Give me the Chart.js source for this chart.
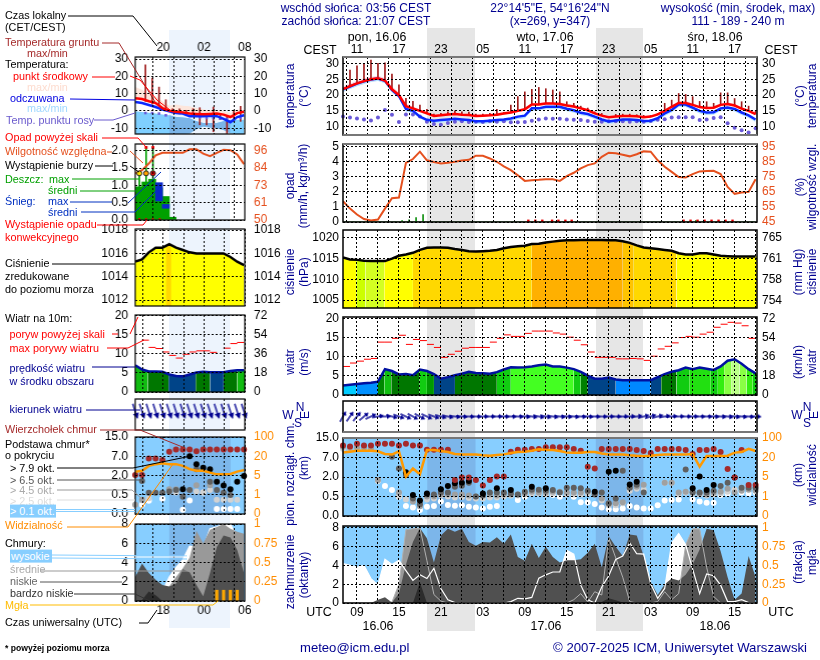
<!DOCTYPE html>
<html lang="pl">
<head>
<meta charset="utf-8">
<title>Meteogram ICM</title>
<script src="https://cdn.jsdelivr.net/npm/chart.js@4"></script>
<style>
    html, body { margin: 0; padding: 0; background: #fff; overflow: hidden; }
    #page { position: relative; width: 820px; height: 660px; overflow: hidden; font-family: "Liberation Sans", Arial, sans-serif; }
    #page canvas { position: absolute; z-index: 1; }
    #page svg { position: absolute; left: 0; top: 0; z-index: 2; }
    .night { position: absolute; z-index: 0; }
    .txt { position: absolute; z-index: 3; white-space: nowrap; line-height: 1; }
</style>
</head>
<body>
<div id="page"></div>
<script>
const _ = null;

// main panels: one value per hour, first one is 07 UTC on 16.06
const tempMid = [21.9,22.8,23.7,24.4,25,25.3,24.6,21.8,20,16.5,15.8,15,14.2,13.4,13.6,13.9,14,13.8,13.7,13.4,13.5,13.6,13.8,14.2,14.5,15,15.5,17,17,17.3,17.3,17.2,16.7,16.4,15.8,15.2,14.2,13.5,13,13.2,13.4,13.4,13.3,13,13.2,13.9,15,16.3,17.5,17.5,16.9,16.2,15.9,16,16.9,17.2,16.7,15.7,15,14];
const tempMax = [22.8,23.6,24.6,25.3,25.8,26.1,25.4,22.8,20.8,17.3,16.4,15.5,14.7,13.9,14.1,14.3,14.4,14.2,14.1,13.8,13.9,14,14.3,14.7,15,15.5,16,17.5,17.6,17.8,17.8,17.7,17.2,16.9,16.3,15.6,14.6,13.9,13.4,13.6,13.8,13.8,13.7,13.4,13.6,14.3,15.5,16.8,18,18.1,17.4,16.6,16.3,16.5,17.4,17.7,17.2,16.2,15.4,14.4];
const tempMin = [21,21.9,22.8,23.5,24.1,24.5,23.8,20.9,19.2,15.8,15.1,14.5,13.8,13,13.2,13.5,13.6,13.4,13.3,13,13.1,13.2,13.4,13.8,14.1,14.6,15,16.5,16.6,16.9,16.9,16.8,16.3,16,15.4,14.8,13.8,13.1,12.7,12.9,13.1,13.1,13,12.7,12.9,13.5,14.6,15.9,17,17.1,16.5,15.8,15.5,15.6,16.4,16.7,16.3,15.3,14.6,13.6];
const feelMid = [21.8,22.7,23.6,24.3,24.9,25.2,24.5,21.6,19.7,15.6,15,13.2,12.2,11.9,12.1,12.3,12.5,12.3,12.1,11.7,11.7,11.9,12.1,12.3,12.6,13.2,13.5,15.8,15.8,16.3,16.3,16.3,15.7,15.2,14.4,14,13.2,12.3,11.7,12,12.3,12.3,12.1,11.8,11.9,12.7,14.2,15.3,17,17,16,15,14.5,14.6,15.8,16.1,15.6,14.5,13.6,12.3];
const feelMin = [21,21.9,22.8,23.5,24.1,24.4,23.7,20.8,19,14.8,14.2,12.8,11.4,11.1,11.3,11.5,11.7,11.5,11.3,10.9,10.9,11.1,11.3,11.5,11.8,12.4,12.7,15,15.1,15.5,15.5,15.5,14.9,14.4,13.6,13.2,12.4,11.5,10.9,11.2,11.5,11.5,11.3,11,11.1,11.9,13.4,14.5,16.2,16.2,15.2,14.2,13.7,13.8,15,15.3,14.8,13.7,12.8,11.5];
const soilMax = [22,27.9,29.2,30,31,30,30.2,26.6,23.2,19,18,16.8,15.5,14,14.2,14.7,15,14.7,14.6,14,14,14.2,15.5,14.5,16.8,19.5,21,21.8,22.4,22,21.6,21,17.9,17.4,16.5,15.9,14.7,14.2,13.2,13.9,14,14,13.8,13.6,13.5,14.2,17.4,18.4,20.5,20.2,19.5,18,17.9,17.4,20.7,20.7,18.9,17.9,16.5,15];
const dewPoint = [13.2,12.9,12.6,12.3,12,12.9,15.3,13.8,11.5,13.9,13.9,13.2,11.6,10.9,10.6,11.2,11.6,11.7,11.5,11.6,11.5,11.7,11.6,11.7,11.4,11.4,11.5,11.9,12.3,12.6,12.5,12.5,12.3,12.2,12.1,11.8,11.6,11.6,11.7,11.7,11.7,11.6,11.7,11.6,11.8,12.2,12.4,12.9,13,13,13,12.1,12.3,12.8,13,11.1,9.7,8.9,8.2,9.5];

const humidity = [58.8,53.9,50,47,46,46.6,53.9,60.8,61.2,84.3,86.8,91.7,86,84.8,83.9,84.3,85,85.9,86.3,89,89,87.2,85,82,79.4,76,72.3,72.8,73,73.4,73.4,72.3,75.4,77.7,80.6,82.8,83.9,88.3,91,90.6,89.7,88.6,90,91.9,91.7,86,81.7,78.3,74.8,74.6,76.8,78.6,78.8,79,76.8,68.3,63.7,64.6,65,73.4];
const rainMean = [0,0,0,0,0,0,0,0,0,0,0,0,0,0,0,0,0,0,0,0,0,0,0,0,0,0,0,0,0,0,0,0,0,0,0,0,0,0,0,0,0,0,0,0,0,0,0,0,0,0,0,0,0,0,0,0,0,0,0,0];
const rainMax = [0,0,0,0,0,0,0,0,0.1,0.15,0.3,0.5,0,0,0,0,0,0,0,0,0,0,0,0,0,0,0,0,0,0,0,0,0,0,0,0,0,0,0,0,0,0,0,0,0,0,0,0,0,0,0.1,0,0,0,0,0,0,0,0,0];
const convectiveHours = [26.5,27.5,28.5,29.9,30.8,31.8,32.7,48.7,49.7,50.7,51.7,52.7,53.7,54.7,55.7];

const pressure = [1015.3,1014.8,1014.7,1014.5,1014.4,1014.4,1014.4,1015,1015.7,1016,1016.4,1017.1,1017.6,1017.7,1017.7,1017.6,1017.3,1017.1,1016.8,1016.7,1016.8,1016.9,1017.1,1017.5,1017.8,1018,1018.1,1018.5,1018.6,1018.9,1019.1,1019.3,1019.4,1019.4,1019.5,1019.5,1019.5,1019.5,1019.4,1019.4,1019.2,1018.8,1018.2,1017.7,1017.5,1017.3,1017.1,1016.9,1016.3,1016,1016,1016.3,1016.3,1016,1015.7,1015.6,1015.5,1015.5,1015.5,1015.5];
const windSpeed = [2.5,2.7,2.9,3.1,3.2,3.5,6.8,6.3,5.4,5.5,5.2,6.7,6.3,5.5,4.3,4.7,5.2,5.6,6.1,5.8,5.7,5.6,6,6.7,7.3,7.2,7.3,7.5,7.8,8,7.5,7.5,7.2,6.8,6.1,5.1,4.3,4.3,4.6,4.1,3.9,3.9,3.9,3.9,3.9,4.7,5.5,6.1,6.5,7.2,6.8,7.2,6.9,6.6,7.5,9,9.4,8.2,6.8,5.7];
const windGust = [7.5,8.4,8.9,9.4,9.6,13.9,13.9,14.9,15.7,13.3,14.6,14.3,13.3,12.5,9.9,10.7,11.5,12.3,12.5,12.5,12.5,13.9,14.9,15.8,15.4,15.4,16.2,16.8,16.8,16.8,16.3,16,15.2,14.4,13.2,11.3,9.9,9.9,9.9,9.5,9.5,9.6,9.5,9.1,10.2,12.1,12.8,13.7,15.1,15.4,15.2,16,16.5,17.8,18.6,19.1,18.9,18.2,14.9];
const windAngle = [-60,-55,-50,-40,-25,-10,0,15,20,25,28,28,25,20,15,12,8,5,3,2,0,0,0,2,3,5,8,10,12,12,10,8,8,8,5,5,3,2,0,0,-2,-5,-10,-15,-18,-15,-10,-5,-2,0,0,2,3,5,8,10,10,8,5,2];

// cloud base: position on the axis, one unit per tick gap (0 / 0.5 / 2 / 7 / 15 km)
const baseTop = [3.61,3.56,3.71,3.61,3.61,3.71,3.71,3.71,3.62,3.71,3.62,3.62,3.4,3.4,3.4,3.4,1.85,1.97,1.97,1.85,1.56,1.85,2.02,2.02,3.3,3.4,3.4,3.44,3.44,3.52,3.52,3.52,3.52,3.44,3.35,2.53,2.44,3.44,3.44,3.44,3.44,3.44,3.38,3.33,3.23,3.44,3.44,3.44,3.44,3.38,3.18,3.38,3.38,3.44,3.28,2.41,1.97,3.38,1.59,1.59];
const baseOver79 = [_,_,_,_,_,_,_,_,_,2.24,1.08,0.79,1.16,_,1.37,1.54,1.68,1.71,1.79,_,1.16,_,1.42,_,1.33,_,_,1.5,_,1.42,_,_,_,_,_,_,1.25,_,2.27,2.32,_,1.62,1.76,_,_,_,_,_,_,_,1.42,2.02,1.33,1.59,_,_,1.97,_,_,_];
const baseOver65 = [_,_,_,_,_,_,_,3.04,2.44,2.1,0.9,0.6,1.1,1.1,1.2,1.2,1.5,1.55,1.7,1,1.05,1.2,1.2,1.2,1.15,1.1,1.25,1.35,1.35,1.3,1.33,1.2,1.45,1.45,1.42,1.3,1.1,1.2,0.65,0.9,2.32,1.45,1.6,1.2,_,_,_,_,_,2.39,1.2,1.2,1.2,1.3,1.54,1.7,_,1.45,1.45,1.45];
const baseOver45 = [3.55,3.5,3.5,3.5,3.45,1.85,_,3.08,1.2,_,0.75,0.5,1,1,1.1,1.1,1.1,1.1,1.05,1,1.05,1.1,1.05,1.1,1.1,1.1,1.15,1.25,1.2,1.2,1.25,1.25,1.2,1.2,1.2,1.25,1.15,0.9,0.6,0.65,0.7,1.45,1.5,1.6,_,_,1.7,1.7,1.2,1.25,1.25,1.15,1.1,1.2,1.25,1.4,1.2,1.3,1.35,1.3];
const baseOver25 = [3.45,3.45,3.45,3.45,3.4,1.81,_,_,1,0.85,0.75,0.6,0.85,0.9,1.05,1,0.95,0.98,0.92,0.9,0.9,0.95,0.95,1,1.05,1.05,1.1,1.15,1.15,1.1,1.15,1.2,1.1,1.1,1.1,1.15,1.1,0.8,0.55,0.55,0.65,1.3,1.4,1.35,_,_,1.7,1.7,1.1,1.2,1.15,1.1,1.05,1.1,1.15,1.25,1.35,1.45,1.45,1.4];
const baseOver01 = [_,_,_,_,_,1.81,1.54,1.33,0.99,0.51,0.43,0.31,0.48,0.51,0.74,0.56,0.53,0.55,0.48,0.43,0.39,0.48,0.51,_,_,0.82,0.99,_,_,_,1.08,0.99,_,0.99,0.7,0.7,0.62,0.43,0.34,0.34,0.39,0.51,0.43,0.38,0.39,0.55,0.79,0.82,0.85,_,0.85,0.74,0.68,0.68,1.08,1.16,1.28,1.2,1.16,1.2];
const visibility = [3.25,3.3,3.35,3.35,3.35,3.32,3.18,3.15,3.32,2.02,2.44,2.14,3.38,3.38,3.33,3.28,3.18,3.15,3.16,3.15,3.11,3.09,3.13,3.16,3.23,3.28,3.3,3.35,3.42,3.38,3.38,3.33,3.26,3.25,3.25,3.28,3.28,3.21,3.16,3.16,3.15,3.11,3.09,3.08,3.09,3.13,3.15,3.15,3.15,3.15,3.18,2.53,3.08,3.08,3.08,3.09,3.25,3.28,3.44,3.33];

// cloud cover, oktas
const cloudHigh = [4.2,4,3.8,4,2.6,1.9,4.65,4.1,4.55,3.45,2.4,3,2.6,3.7,1.55,0.35,0.05,0,0,0,0,0,0,0,0.15,0.5,0.45,0.6,2.65,3,3.3,3.3,5.6,5.2,1.9,0.35,0,1.7,2.9,4.65,5,6.4,5.25,5.2,2.05,0.5,1.55,6.4,7.4,6.2,3.6,1,3.1,2.9,1.9,0.15,0.15,0.35,0.05,0];
const cloudMid = [0,0,0,0,0,0,0,0.1,2,7.8,7.9,8,4.5,0.9,0.2,0,0,0,0,0,0,0,0,0,0,0,0,0,0,0,0,0,0,0.35,1,0.1,1.2,0.85,6.9,4.8,2.75,0.15,0,0,0,0.15,1.2,0.35,1,6.2,7.9,7.9,3.8,0.7,0,0,0,0,0,0];
const cloudLow = [0,0,0,0,0,0.35,0.6,0.05,1,4.1,6.5,8,6.9,4.3,7.2,7.9,7.6,7.9,6.5,6.1,6.5,6.45,7,6.3,7.3,4.9,4.5,6.3,4.8,6,4.9,4.3,4.55,4.55,4.65,5.35,6.3,3.8,7.1,6,5,7.3,7.2,5,2.25,0.85,2,2.6,2.4,3,4.1,5.7,7.9,7.75,5.5,2.75,0.35,1,5,2.75];
const cloudVeryLow = [0,0,0,0,0,0,0,0,0,0,0,2.2,0,0,0,0,0,0,0,0,0,0,0,0,0,0,0,0,0,0,0,0,0,0,0,0,0,0.1,0.5,0.3,0.05,0,0,0,0,0,0,0,0,0,0,0,0,0,0,0,0,0,0,0];

// main axes
const mainHourTicks = [2,5,8,11,14,17,20,23,26,29,32,35,38,41,44,47,50,53,56,59];
const utcLabels = ['09','','15','','21','','03','','09','','15','','21','','03','','09','','15',''];
const cestLabels = ['11','','17','','23','','05','','11','','17','','23','','05','','11','','17',''];
const sunBands = [[12.05,18.95],[36.15,42.95]];

// small legend panels: one value per hour, 17 hours
const keyTemp = [7.3,6.9,5.6,4.6,1.7,0.2,-0.4,-0.8,-1.5,-1.7,-1.9,-1.7,-1.5,-2.1,-3.5,-1.2,-0.4];
const keyTempMax = [13.8,12.3,9.8,8.5,5.6,3,3.7,3,2.7,1.7,0.8,0.4,0.4,-0.2,-1.2,0.8,0.2];
const keyFeel = [5.2,4.6,3.5,2.3,0.8,-0.2,-1.2,-1.5,-3,-3,-3,-2.8,-3,-4.6,-6.5,-3.5,-2.5];
const keyFeelMax = [-0.2,-0.6,-1,-1.5,-2,-2.5,-3.5,-3.8,-4.2,-6,-7,-7,-7,-6,-5,-5,-5];
const keyFeelMin = [-13.3,-13.3,-13.3,-13.3,-13.3,-13.3,-13.3,-13.3,-13,-10.5,-9,-9.5,-10,-11,-13,-13.3,-13.3];
const keySoilHigh = [_,26.7,19,13.8,6.5,1.3,1.3,0.4,1.3,1.9,-3.6,2.3,-1.5,-2.5,0.4,2.7,_];
const keySoilLow = [_,5.5,4,3,0,-1,-1,-1.5,-2,-8,-8,-12,-5,-13,-6,-6,_];
const keyDew = [_,-1.2,-1.2,-1.5,-2.5,-0.6,-1.2,-2.1,-2.1,-3.7,-4,-4,-4.4,-4.6,-5.4,-4,_];
const keyHumidity = [81,83.2,87.6,93.1,94.7,94.7,94.7,94.7,97.1,97.1,94.2,92.5,94.7,96.7,96.5,93.6,87.2];
const keyRain = [0.96,1.1,1.18,0.38,0.34,0.08];
const keySnow = [_,_,_,1.08,0.45,_];
const keyRainFrom = [0,0,0,0.55,0.34,0];
const keyRainPeaks = [1.35,2.1,2.1];
const keyStorm = [1.35,1.35,1.35];
const keyAboveScale = [2.1,2.1];
const keyConvective = [0.03,0.03,0.03,0.03];
const keyPressure = [1015.3,1015.5,1016.1,1016.5,1016.5,1016.8,1016.5,1016.3,1016.1,1016,1016,1016,1016,1016,1015.7,1015.3,1015];
const keyWind = [7,5.9,5.4,5.4,5.3,4.6,4.2,4.1,4.6,5.1,5.3,5.2,5.2,5.2,5.5,5.7,5.7];
const keyGust = [_,13.6,11.7,11.4,10.5,9.6,8.9,9.9,10.5,10.8,10.8,10.4,_,11.5,12.7,13];
const keyVane = [72,72,72,72,72,72,72,72,72,72,72,72,72,72,72,72,72];
const keyVaneRow = [0.6,0.6,0.6,0.6,0.6,0.6,0.6,0.6,0.6,0.6,0.6,0.6,0.6,0.6,0.6,0.6,0.6];
const keyBaseTop = [2.03,2.03,2.88,2.88,2.8,3.24,3.35,3.35,3.35,3.26,3.35,3.35,3.35,3.35,3.35,3.35,3.35];
const keyOver79 = [_,_,_,_,_,_,_,1.29,3,2.58,2.4,2.32,1.68,1.48,1.29,1.68,1.97];
const keyOver65 = [_,1.72,1.1,1.1,1.1,1.17,1.25,0.9,1.25,2.32,_,1.68,1.25,1.1,0.99,_,_];
const keyOver45 = [0.48,0.74,_,_,_,1.29,1.29,_,_,1.5,_,1.5,_,_,_,_,_];
const keyOver25 = [_,0.72,0.82,_,_,1.17,1.12,_,_,1.17,1.12,1.25,0.74,0.74,0.74,0.74,_];
const keyOver01 = [_,0.48,0.69,_,0.79,_,_,0.22,0.7,_,1.12,_,0.26,0.26,0.26,0.26,_];
const keyVisibility = [2.2,2.25,2.5,2.59,2.63,2.58,2.59,2.5,2.33,2.25,2.25,2.15,2.06,2.06,2.08,2.2,2.28];
const keyHigh = [0,0,0,0,1,2.5,3.5,4.3,5.7,5.6,5.6,7.5,7.7,8,8,6.65,6];
const keyMid = [0,0,0,0,0.5,1.5,2.5,3.4,4.5,7.3,6,7.4,7.7,8,7.5,7.2,7];
const keyLow = [2.5,3.9,2.9,2.2,1.65,1.5,1.8,3.3,3,1.65,0.5,2.9,5.6,6.8,6.6,5.3,2.9];
const keyVeryLow = [0,0.1,1,0.6,0,0,0,0,0,0,0,0,0,0,0,0,0];
const keyFog = [0.14,0.14,0.14,0.14];

const keyStart = 13.88;
const keyHourTicks = [15,18,21,24,27,30];
const keyUtcLabels = ['','18','','00','','06'];
const keyLocalLabels = ['','20','','02','','08'];
const keyNight = [[18.9,27.9]];

// ticks
const tempTicks = [30,25,20,15,10];
const rainTicks = [5,4,3,2,1,0];
const humidityTicks = [95,85,75,65,55,45];
const pressureTicks = [1020,1015,1010,1005];
const mmHgTicks = [765.06,761.3,757.6,753.8];
const mmHgLabels = ['765','761','758','754'];
const windTicks = [20,15,10,5,0];
const kmhTicks = [72,54,36,18,0];
const levelTicks = [4,3,2,1,0];
const baseLabels = ['15.0','7.0','2.0','0.5','0.0'];
const visibilityLabels = ['100','20','5','1','0'];
const oktaTicks = [8,6,4,2,0];
const fractionTicks = [1,0.75,0.5,0.25,0];
const fractionLabels = ['1','0.75','0.5','0.25','0'];
const keyTempTicks = [30,20,10,0,-10];
const keyRainTicks = [2,1.5,1,0.5,0];
const keyRainLabels = ['2.0','1.5','1.0','0.5','0.0'];
const keyHumidityTicks = [96,84.5,73,61.5,50];
const keyHumidityLabels = ['96','84','73','61','50'];
const keyPressureTicks = [1018,1016,1014,1012];
const keyOktaTicks = [8,6,4,2,0];

const SIDE = 50;
const page = document.getElementById('page');
const tickFont = { family: '"Liberation Sans", Arial, sans-serif', size: 12 };
const NAVY = '#000090', ORANGE = '#ff8c00', RUST = '#e5501e';

function pts(values, x0) {
    return values.map((v, i) => ({ x: i + x0, y: v }));
}

function line(values, x0, color, width, extra) {
    return Object.assign({ type: 'line', data: pts(values, x0), borderColor: color, borderWidth: width, pointRadius: 0, tension: 0, fill: false }, extra);
}

function dots(values, x0, color, radius, extra) {
    return Object.assign({ type: 'line', data: pts(values, x0), showLine: false, pointRadius: radius, pointBackgroundColor: color, pointBorderWidth: 0, clip: false }, extra);
}

function bars(data, color, thickness, extra) {
    return Object.assign({ type: 'bar', data: data, backgroundColor: color, barThickness: thickness, grouped: false }, extra);
}

function valueAt(values, x) {
    const a = Math.min(Math.floor(x), values.length - 1);
    const b = Math.min(a + 1, values.length - 1);
    return values[a] + (values[b] - values[a]) * (x - a);
}

// one filled colour strip under a curve, between two hours
function strips(values, table) {
    return table.map(([from, to, color]) => {
        const data = [{ x: from, y: valueAt(values, from) }];
        for (let i = Math.ceil(from + 0.001); i < to; i++) data.push({ x: i, y: values[i] });
        data.push({ x: to, y: valueAt(values, to) });
        return { type: 'line', data: data, borderWidth: 0, pointRadius: 0, tension: 0, fill: 'start', backgroundColor: color };
    });
}

function yScale(position, range, ticks, labels, color, padding) {
    return {
        type: 'linear', position: position, min: range[0], max: range[1],
        afterBuildTicks: s => { s.ticks = ticks.map(v => ({ value: v })); },
        afterFit: s => { s.width = SIDE; },
        grid: { display: position === 'left', color: '#000', lineWidth: 1, drawTicks: false, z: 1 },
        border: { display: false, dash: [2, 2] },
        ticks: {
            display: ticks.length > 0, color: color || '#000', font: tickFont, padding: padding, autoSkip: false,
            callback: v => labels ? labels[ticks.indexOf(v)] : String(v)
        }
    };
}

function xScale(position, range, ticks, labels, height, padding) {
    return {
        type: 'linear', position: position, min: range[0], max: range[1], offset: false,
        afterBuildTicks: s => { s.ticks = ticks.map(v => ({ value: v })); },
        afterFit: s => { s.height = height; },
        grid: { display: position === 'bottom', color: '#000', lineWidth: 1, drawTicks: false, z: 1 },
        border: { display: false, dash: [2, 2] },
        ticks: {
            display: !!labels, color: '#000', font: tickFont, padding: padding, autoSkip: false, maxRotation: 0,
            callback: (v, i) => labels ? labels[i] : ''
        }
    };
}

// one framed panel with its own axes; plot area is given in page pixels
function panel(o) {
    const mt = o.topLabels ? 26 : 20;
    const mb = o.bottomLabels ? 26 : 20;
    const cv = document.createElement('canvas');
    const w = o.box[1] - o.box[0] + SIDE * 2;
    const h = o.box[3] - o.box[2] + mt + mb;
    cv.width = w; cv.height = h;
    cv.style.left = (o.box[0] - SIDE) + 'px';
    cv.style.top = (o.box[2] - mt) + 'px';
    cv.style.width = w + 'px';
    cv.style.height = h + 'px';
    page.appendChild(cv);

    const n = o.datasets.length;
    o.datasets.forEach((d, i) => {
        d.order = n - i;
        if (!d.yAxisID) d.yAxisID = 'y';
    });

    const frame = {
        id: 'frame',
        beforeDraw(chart) {
            if (!o.sky) return;
            const { ctx, chartArea: a, scales } = chart;
            ctx.save();
            ctx.fillStyle = '#87ceff';
            ctx.fillRect(a.left, a.top, a.width, a.height);
            ctx.fillStyle = '#7cb6ea';
            o.bands.forEach(([from, to]) => {
                const l = scales.x.getPixelForValue(from);
                ctx.fillRect(l, a.top, scales.x.getPixelForValue(to) - l, a.height);
            });
            ctx.restore();
        },
        afterDraw(chart) {
            const { ctx, chartArea: a } = chart;
            ctx.save();
            ctx.lineWidth = o.frameWidth || 1.5;
            ctx.strokeStyle = '#000';
            ctx.strokeRect(a.left, a.top, a.width, a.height);
            ctx.strokeStyle = '#777';
            ctx.lineWidth = 2;
            (o.greyEdges || []).forEach(edge => {
                const y = edge === 'top' ? a.top : a.bottom;
                ctx.beginPath();
                ctx.moveTo(a.left, y);
                ctx.lineTo(a.right, y);
                ctx.stroke();
            });
            ctx.restore();
        }
    };

    const scales = {
        x: xScale('bottom', o.range, o.hourTicks, o.bottomLabels, mb, 2.5),
        xt: xScale('top', o.range, o.hourTicks, o.topLabels, mt, o.topPad || 0),
        y: yScale('left', o.left.range, o.left.ticks, o.left.labels, o.left.color, o.leftPad || 4),
        yr: yScale('right', o.right.range, o.right.ticks, o.right.labels, o.right.color, o.rightPad || 5)
    };

    return new Chart(cv, {
        type: 'line',
        data: { datasets: o.datasets },
        options: {
            responsive: false, animation: false, devicePixelRatio: 1,
            layout: { padding: 0 },
            scales: scales,
            plugins: { legend: { display: false }, tooltip: { enabled: false } }
        },
        plugins: [frame]
    });
}

function arrowImage(length, headLength, headWidth, color) {
    const c = document.createElement('canvas');
    c.width = length; c.height = 8;
    const g = c.getContext('2d');
    g.strokeStyle = color; g.fillStyle = color; g.lineWidth = 1.4;
    g.beginPath(); g.moveTo(0, 4); g.lineTo(length - 2, 4); g.stroke();
    g.beginPath(); g.moveTo(length, 4); g.lineTo(length - headLength, 4 - headWidth / 2); g.lineTo(length - headLength, 4 + headWidth / 2); g.closePath(); g.fill();
    return c;
}

/* ---------- main column ---------- */
const mainX = [342.7, 757];
const mainRange = [0, 59.2];
function mainPanel(top, bottom, o) {
    return panel(Object.assign({ box: [mainX[0], mainX[1], top, bottom], range: mainRange, hourTicks: mainHourTicks, bands: sunBands }, o));
}

const mainTemp = mainPanel(57, 135, {
    topLabels: cestLabels, greyEdges: ['top', 'bottom'],
    left: { range: [7.4, 32], ticks: tempTicks }, right: { range: [7.4, 32], ticks: tempTicks },
    datasets: [
        line(tempMax, 0, 'rgba(0,0,0,0)', 0, { fill: '+1', backgroundColor: '#fbd5e0' }),
        line(tempMin, 0, 'rgba(0,0,0,0)', 0),
        line(feelMid, 0, 'rgba(0,0,0,0)', 0, { fill: '+1', backgroundColor: '#b8e4ff' }),
        line(feelMin, 0, 'rgba(0,0,0,0)', 0),
        bars(soilMax.map((v, i) => ({ x: i, y: [tempMid[i], v] })), '#a01c1c', 1),
        dots(dewPoint, 0, '#6a5ad8', 2),
        line(feelMid, 0, '#0a28ff', 2.5),
        line(tempMid, 0, '#ff0000', 2.5)
    ]
});

mainPanel(144, 222, {
    greyEdges: ['top'],
    left: { range: [0, 5.18], ticks: rainTicks }, right: { range: [45, 96.8], ticks: humidityTicks, color: RUST },
    datasets: [
        line(rainMean, 0, '#0a6a0a', 1),
        bars(pts(rainMax, 0.45), '#109010', 1),
        line(humidity, 0, RUST, 2, { yAxisID: 'yr' }),
        dots(convectiveHours.map(() => 0.08), 0, '#e00000', 1.7, { pointStyle: 'rect', data: convectiveHours.map(h => ({ x: h, y: 0.08 })) })
    ]
});

const pressureStrips = [[0,1.9,'#ffff00'],[1.9,3.2,'#ccff00'],[3.2,5.9,'#d4ff22'],[5.9,10,'#ffff00'],[10,27,'#ffd800'],[27,40,'#ffb000'],[40,41.5,'#ffc400'],[41.5,47.7,'#ffd800'],[47.7,59.2,'#ffff00']];
mainPanel(230, 308, {
    left: { range: [1003.1, 1021.9], ticks: pressureTicks },
    right: { range: [752.4, 766.5], ticks: mmHgTicks, labels: mmHgLabels },
    datasets: strips(pressure, pressureStrips).concat([line(pressure, 0, '#000', 2.5)])
});

const windStrips = [[0,1.9,'#00ccff'],[1.9,5,'#0090ff'],[5,5.9,'#008800'],[5.9,6.9,'#11c011'],[6.9,10.9,'#007700'],[10.9,12,'#11cc11'],[12,13,'#009900'],[13,16,'#004488'],[16,22,'#007700'],[22,24,'#11cc11'],[24,33,'#44ff22'],[33,34,'#11cc11'],[34,35,'#008000'],[35,39,'#004488'],[39,44,'#0088ff'],[44,45.5,'#004488'],[45.5,47.7,'#007700'],[47.7,49.5,'#11cc11'],[49.5,52.6,'#22e011'],[52.6,53.6,'#11cc11'],[53.6,54.5,'#33ee11'],[54.5,55.5,'#88ff44'],[55.5,56.7,'#bbff88'],[56.7,57.7,'#88ff44'],[57.7,58.6,'#33ee11'],[58.6,59.2,'#11cc11']];
mainPanel(317, 395, {
    left: { range: [0, 20.5], ticks: windTicks }, right: { range: [0, 73.8], ticks: kmhTicks },
    datasets: strips(windSpeed, windStrips).concat([
        line(windSpeed, 0, '#0010a0', 2.5),
        dots(windGust, 0.5, '#ff0000', 3.5, { pointStyle: 'line', pointBorderColor: '#ff0000', pointBorderWidth: 1 })
    ])
});

const mainArrow = arrowImage(12, 4, 5, '#000090');
mainPanel(401, 432, {
    greyEdges: ['bottom'],
    left: { range: [0, 1], ticks: [] }, right: { range: [0, 1], ticks: [] },
    datasets: [
        dots(windAngle.map(() => 0.5), 0, '#000090', 5, { pointStyle: mainArrow, pointRotation: windAngle })
    ]
});

mainPanel(438, 516, {
    sky: true, greyEdges: ['top'],
    left: { range: [0, 4], ticks: levelTicks, labels: baseLabels },
    right: { range: [0, 4], ticks: levelTicks, labels: visibilityLabels, color: ORANGE },
    datasets: [
        dots(baseOver01, 0, '#ffffff', 3),
        dots(baseOver25, 0, '#d2d2d2', 3),
        dots(baseOver45, 0, '#a0a0a0', 3),
        dots(baseOver65, 0, '#606060', 3),
        dots(baseOver79, 0, '#000000', 3),
        dots(baseTop, 0, '#a52a2a', 3),
        line(visibility, 0, '#ff9900', 2.5)
    ]
});

mainPanel(526, 603, {
    sky: true, bottomLabels: utcLabels,
    left: { range: [0, 8.2], ticks: oktaTicks },
    right: { range: [0, 1.025], ticks: fractionTicks, labels: fractionLabels, color: ORANGE },
    datasets: [
        line(cloudHigh, 0, '#ffffff', 0, { fill: 'start', backgroundColor: '#ffffff' }),
        line(cloudMid, 0, '#999999', 0, { fill: 'start', backgroundColor: '#999999' }),
        line(cloudLow, 0, '#505050', 0, { fill: 'start', backgroundColor: '#505050' }),
        line(cloudVeryLow, 0, '#2c2c2c', 0, { fill: 'start', backgroundColor: '#2c2c2c' }),
        line(cloudMid, 0, '#b0b0b0', 1),
        line(cloudHigh, 0, '#ffffff', 1.2)
    ]
});

/* ---------- small legend column ---------- */
const keyX = [135.3, 245];
const keyRange = [keyStart, 30];
function keyPanel(top, bottom, o) {
    return panel(Object.assign({ box: [keyX[0], keyX[1], top, bottom], range: keyRange, hourTicks: keyHourTicks, bands: keyNight, frameWidth: 1.2, leftPad: 7, rightPad: 9, topPad: 2 }, o));
}

const keyTempChart = keyPanel(57, 134, {
    topLabels: keyLocalLabels,
    left: { range: [-13.3, 31.2], ticks: keyTempTicks }, right: { range: [-13.3, 31.2], ticks: keyTempTicks },
    datasets: [
        line(keyTempMax, keyStart, 'rgba(0,0,0,0)', 0, { fill: '+1', backgroundColor: '#fde6dc' }),
        line(keyTemp, keyStart, 'rgba(0,0,0,0)', 0),
        line(keyFeelMax, keyStart, 'rgba(0,0,0,0)', 0, { fill: '+1', backgroundColor: '#7fcfff' }),
        line(keyFeelMin, keyStart, 'rgba(0,0,0,0)', 0),
        line(keyFeelMax.slice(5, 15), keyStart + 5, 'rgba(0,0,0,0)', 0, { fill: '+1', backgroundColor: '#7ab4e8' }),
        line(keyFeelMin.slice(5, 15), keyStart + 5, 'rgba(0,0,0,0)', 0),
        bars(keySoilHigh.map((v, i) => ({ x: i + keyStart + 0.5, y: v === null ? null : [keySoilLow[i], v] })).filter(p => p.y), '#a01c1c', 1),
        dots(keyDew, keyStart + 0.5, '#6a5ad8', 1.8, { pointStyle: 'rect' }),
        line(keyFeel, keyStart, '#0a28ff', 2.5),
        line(keyTemp, keyStart, '#ff0000', 2.5)
    ]
});

keyPanel(144, 220, {
    left: { range: [0, 2.2], ticks: keyRainTicks, labels: keyRainLabels },
    right: { range: [50, 100.6], ticks: keyHumidityTicks, labels: keyHumidityLabels, color: RUST },
    datasets: [
        bars(keyRain.map((v, i) => ({ x: i + keyStart + 0.5, y: [0, v + keyRainFrom[i]] })), '#00a000', 7),
        bars(keySnow.map((v, i) => ({ x: i + keyStart + 0.5, y: v === null ? null : [keyRainFrom[i], v] })).filter(p => p.y), '#0a28c8', 7),
        bars(keyRainPeaks.map((v, i) => ({ x: i + keyStart + 0.6, y: [0.9, v] })), '#00a000', 1),
        line(keyHumidity, keyStart, RUST, 2, { yAxisID: 'yr' }),
        dots(keyAboveScale, keyStart + 1.6, '#e00000', 2, { pointStyle: 'rect' }),
        dots(keyStorm, keyStart + 0.6, ['#ffe000', '#ffa000', '#e00000'], 2.5, { pointBorderWidth: 1, pointBorderColor: '#222' }),
        dots(keyConvective, keyStart + 0.6, '#e00000', 1.3, { pointStyle: 'rect' })
    ]
});

keyPanel(229, 306, {
    left: { range: [1011.5, 1018.1], ticks: keyPressureTicks }, right: { range: [1011.5, 1018.1], ticks: keyPressureTicks },
    datasets: [
        line(keyPressure, keyStart, 'rgba(0,0,0,0)', 0, { fill: 'start', backgroundColor: '#ffff00' }),
        line(keyPressure, keyStart, 'rgba(0,0,0,0)', 0, { fill: 'start', backgroundColor: '#ffd800', data: [4.5, 5, 5.3].map(k => ({ x: keyStart + k, y: valueAt(keyPressure, k) })) }),
        line(keyPressure, keyStart, '#000', 2.5)
    ]
});

keyPanel(315, 392, {
    left: { range: [0, 20.2], ticks: windTicks }, right: { range: [0, 72.7], ticks: kmhTicks },
    datasets: strips(keyWind, [[0,1.85,'#11bb11'],[1.85,4.9,'#007700'],[4.9,8.9,'#004488'],[8.9,11,'#007700'],[11,13,'#004488'],[13,15,'#007700'],[15,16.12,'#11bb11']])
        .map(d => Object.assign(d, { data: d.data.map(p => ({ x: p.x + keyStart, y: p.y })) }))
        .concat([
            line(keyWind, keyStart, '#0010a0', 2.5),
            dots(keyGust, keyStart + 0.5, '#ff0000', 3.5, { pointStyle: 'line', pointBorderColor: '#ff0000', pointBorderWidth: 1 })
        ])
});

const keyArrow = arrowImage(16, 6, 6, '#000090');
keyPanel(399, 430, {
    left: { range: [0, 1], ticks: [] }, right: { range: [0, 1], ticks: [] },
    datasets: [
        dots(keyVaneRow, keyStart, '#000090', 5, { pointStyle: keyArrow, pointRotation: keyVane })
    ]
});

keyPanel(437, 514, {
    sky: true,
    left: { range: [0, 4], ticks: levelTicks, labels: baseLabels },
    right: { range: [0, 4], ticks: levelTicks, labels: visibilityLabels, color: ORANGE },
    datasets: [
        dots(keyOver01, keyStart, '#ffffff', 3),
        dots(keyOver25, keyStart, '#d2d2d2', 3),
        dots(keyOver45, keyStart, '#a0a0a0', 3),
        dots(keyOver65, keyStart, '#606060', 3),
        dots(keyOver79, keyStart, '#000000', 3),
        dots(keyBaseTop, keyStart, '#a52a2a', 3),
        line(keyVisibility, keyStart, '#ff9900', 2.5)
    ]
});

keyPanel(524, 601, {
    sky: true, bottomLabels: keyUtcLabels,
    left: { range: [0, 8], ticks: keyOktaTicks },
    right: { range: [0, 1], ticks: fractionTicks, labels: fractionLabels, color: ORANGE },
    datasets: [
        line(keyHigh, keyStart, '#ffffff', 1.2, { fill: 'start', backgroundColor: '#ffffff' }),
        line(keyMid, keyStart, '#999999', 0, { fill: 'start', backgroundColor: '#999999' }),
        line(keyLow, keyStart, '#505050', 0, { fill: 'start', backgroundColor: '#505050' }),
        line(keyVeryLow, keyStart, '#2c2c2c', 0, { fill: 'start', backgroundColor: '#2c2c2c' }),
        bars(keyFog.map((v, i) => ({ x: keyStart + 12 + i, y: v })), '#ffa800', 2.5, { yAxisID: 'yr' })
    ]
});

/* ---------- night bands behind the panels, placed from the chart scales ---------- */
function nightStrip(chart, from, to, top, bottom, color) {
    const offset = parseFloat(chart.canvas.style.left);
    const l = offset + chart.scales.x.getPixelForValue(from);
    const r = offset + chart.scales.x.getPixelForValue(to);
    const div = document.createElement('div');
    div.className = 'night';
    div.style.cssText = `left:${l}px;width:${r - l}px;top:${top}px;height:${bottom - top}px;background:${color}`;
    page.appendChild(div);
}
sunBands.forEach(b => nightStrip(mainTemp, b[0], b[1], 28, 631, '#e6e6e6'));
keyNight.forEach(b => nightStrip(keyTempChart, b[0], b[1], 30, 628, '#edf4fd'));

/* ---------- text ---------- */
function text(str, x, y, color, size, extra) {
    const s = document.createElement('span');
    s.className = 'txt';
    s.textContent = str;
    s.style.cssText = `left:${x}px;top:${y}px;color:${color};font-size:${size}px;transform:translateY(-50%);${extra || ''}`;
    page.appendChild(s);
}
function centered(str, x, y, color, size) {
    text(str, x, y, color, size, 'transform:translate(-50%,-50%);');
}
function rotated(str, x, y, color, size) {
    text(str, x, y, color, size, 'transform:translate(-50%,-50%) rotate(-90deg);');
}

const headerTexts = [
    ['wschód słońca: 03:56 CEST', 356, 8], ['zachód słońca: 21:07 CEST', 356, 21],
    ['22°14\'5"E, 54°16\'24"N', 550, 8], ['(x=269, y=347)', 550, 21],
    ['wysokość (min, środek, max)', 738, 8], ['111 - 189 - 240 m', 738, 21]
];
headerTexts.forEach(t => centered(t[0], t[1], t[2], NAVY, 12));

const blackTexts = [
    ['pon, 16.06', 377, 37], ['wto, 17.06', 545, 37], ['śro, 18.06', 715, 37],
    ['CEST', 320, 50], ['CEST', 781, 50], ['UTC', 319, 612], ['UTC', 781, 612],
    ['16.06', 378, 626], ['17.06', 546, 626], ['18.06', 715, 626]
];
blackTexts.forEach(t => centered(t[0], t[1], t[2], '#000', 12.4));

const sideTitles = [
    ['temperatura', 290, 96], ['(°C)', 304, 96], ['opad', 290, 186], ['(mm/h, kg/m³/h)', 303, 186],
    ['ciśnienie', 290, 272], ['(hPa)', 304, 272], ['wiatr', 290, 362], ['(m/s)', 304, 362],
    ['pion. rozciągł. chm.', 290, 474], ['(km)', 304, 468], ['zachmurzenie', 290, 572], ['(oktanty)', 304, 575],
    ['temperatura', 812, 96], ['(°C)', 800, 96], ['wilgotność wzgl.', 812, 187], ['(%)', 800, 187],
    ['ciśnienie', 812, 272], ['(mm Hg)', 798, 272], ['wiatr', 812, 362], ['(km/h)', 798, 362],
    ['widzialność', 812, 475], ['(km)', 798, 475], ['mgła', 812, 562], ['(frakcja)', 798, 562]
];
sideTitles.forEach(t => rotated(t[0], t[1], t[2], NAVY, 12));

const compassTexts = [['N', 300, 407], ['W', 288, 415], ['S', 298, 423], ['N', 807, 407], ['W', 797, 415], ['S', 807, 423]];
compassTexts.forEach(t => centered(t[0], t[1], t[2], NAVY, 12));
rotated('E', 305, 415, NAVY, 12);
rotated('E', 814, 415, NAVY, 12);

text('meteo@icm.edu.pl', 300, 648, NAVY, 13.1);
text('© 2007-2025 ICM, Uniwersytet Warszawski', 553, 648, NAVY, 13.2);
text('* powyżej poziomu morza', 5, 648, '#000', 8.6, 'font-weight:bold;');

const legendTexts = [
    ['Czas lokalny', 5, 15, '#000'], ['(CET/CEST)', 5, 27, '#000'],
    ['Temperatura gruntu', 5, 42, '#a52a2a'], ['max/min', 27, 53, '#a52a2a'],
    ['Temperatura:', 5, 64, '#000'], ['punkt środkowy', 13, 76, '#f00'], ['max/min', 27, 87, '#fddccf'],
    ['odczuwana', 10, 98, '#0000e0'], ['max/min', 27, 108, '#a0d8ff'], ['Temp. punktu rosy', 6, 120, '#6a5acd'],
    ['Opad powyżej skali', 5, 137, '#f00'], ['Wilgotność względna', 5, 151, RUST], ['Wystąpienie burzy', 5, 165, '#000'],
    ['Deszcz:', 5, 179, '#00a000'], ['max', 49, 179, '#00a000'], ['średni', 48, 190, '#00a000'],
    ['Śnieg:', 5, 201, '#0030c0'], ['max', 48, 201, '#0030c0'], ['średni', 48, 212, '#0030c0'],
    ['Wystąpienie opadu', 5, 224, '#f00'], ['konwekcyjnego', 5, 237, '#f00'],
    ['Ciśnienie', 5, 263, '#000'], ['zredukowane', 5, 276, '#000'], ['do poziomu morza', 5, 289, '#000'],
    ['Wiatr na 10m:', 5, 318, '#000'], ['poryw powyżej skali', 9.5, 334, '#f00'], ['max porywy wiatru', 9.5, 348, '#f00'],
    ['prędkość wiatru', 9.5, 368, NAVY], ['w środku obszaru', 9.5, 381, NAVY], ['kierunek wiatru', 9.5, 409, NAVY],
    ['Wierzchołek chmur', 5, 429, '#a52a2a'], ['Podstawa chmur*', 5, 444, '#000'], ['o pokryciu', 5, 455, '#000'],
    ['> 7.9 okt.', 10, 468, '#000'], ['> 6.5 okt.', 10, 480, '#555'], ['> 4.5 okt.', 10, 490, '#aaa'], ['> 2.5 okt.', 10, 501, '#ddd'],
    ['Widzialność', 5, 525, ORANGE], ['Chmury:', 5, 543, '#000'],
    ['średnie', 10, 569, '#aaa'], ['niskie', 10, 581, '#666'], ['bardzo niskie', 10, 593, '#333'], ['Mgła', 5, 605, '#ffbb00'],
    ['Czas uniwersalny (UTC)', 5, 622, '#000']
];
legendTexts.forEach(t => text(t[0], t[1], t[2], t[3], 10.8));
text('> 0.1 okt.', 10, 511, '#fff', 10.8, 'background:#87ceff;padding:1px 1px 1px 0;width:45px;');
text('wysokie', 10, 556, '#fff', 10.8, 'background:#87ceff;padding:1px 1px 1px 1px;width:40px;');

/* ---------- leader lines of the legend ---------- */
const leaders = [
    ['#000', [[68,16],[133,16],[157,46]]],
    ['#a52a2a', [[102,43],[119,43],[155,102]]],
    ['#f00', [[92,77],[115,77]]], ['#f00', [[130,76],[140,80],[157,100],[170,110]]],
    ['#0000e0', [[70,99],[135,100]]],
    ['#6a5acd', [[94,120],[113,120],[135,113]]],
    ['#f00', [[102,138],[138,138],[146,147]]],
    [RUST, [[107,152],[112,152]]], [RUST, [[130,151],[143,163]]],
    ['#000', [[95,166],[113,166]]], ['#000', [[130,166],[139,172]]],
    ['#00a000', [[72,179],[139,179]]], ['#00a000', [[80,191],[140,191]]],
    ['#0030c0', [[70,202],[112,202]]], ['#0030c0', [[128,203],[161,172]]],
    ['#0030c0', [[81,212],[135,212],[160,187]]],
    ['#f00', [[97,225],[143,225],[147,220]]],
    ['#000', [[52,264],[135,264]]],
    ['#f00', [[112,334],[118,334]]], ['#f00', [[130,334],[138,317]]],
    ['#f00', [[107,348],[128,348],[144,340]]],
    [NAVY, [[92,367],[135,367]]], [NAVY, [[86,410],[140,410]]],
    ['#a52a2a', [[100,430],[140,430],[185,448]]],
    ['#000', [[57,468],[133,468],[191,456]]],
    ['#555', [[57,480],[143,480]]],
    ['#999', [[57,490],[132,490],[143,500]]],
    ['#ddd', [[57,500],[135,500]]],
    ['#87ceff', [[55,509.5],[135,509.5]]], ['#87ceff', [[55,511.5],[135,511.5]]],
    [ORANGE, [[67,527],[128,527],[173,464]]],
    ['#87ceff', [[52,555],[187,556]]], ['#87ceff', [[52,558],[187,559]]], ['#fff', [[135,557],[187,557]]],
    ['#999', [[40,571],[192,571]]],
    ['#555', [[40,582],[122,582]]],
    ['#333', [[74,594],[135,594],[150,601]]],
    ['#ffbb00', [[30,605],[213,605],[218,601]]],
    ['#000', [[139,623],[148,623],[157,610]]]
];
const svgNS = 'http://www.w3.org/2000/svg';
const svg = document.createElementNS(svgNS, 'svg');
svg.setAttribute('width', 820);
svg.setAttribute('height', 660);
leaders.forEach(([color, points]) => {
    const p = document.createElementNS(svgNS, 'polyline');
    p.setAttribute('points', points.map(q => q.join(',')).join(' '));
    p.setAttribute('fill', 'none');
    p.setAttribute('stroke', color);
    p.setAttribute('stroke-width', 1);
    svg.appendChild(p);
});
page.appendChild(svg);
</script>
</body>
</html>
